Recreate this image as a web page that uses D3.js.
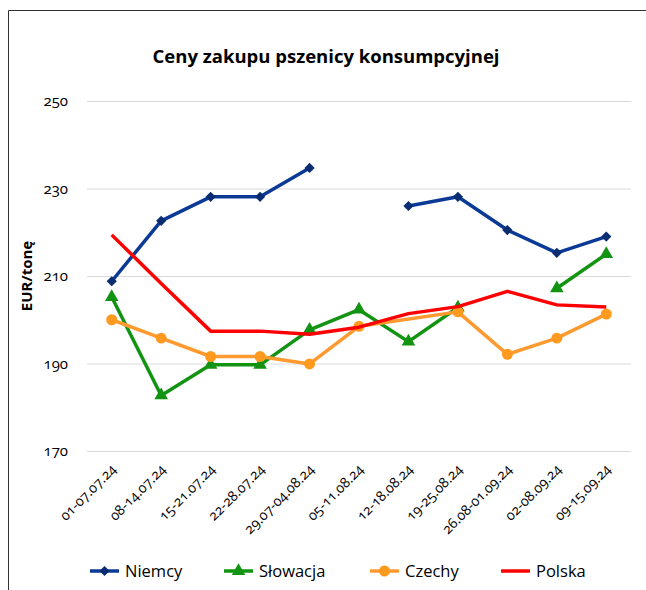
<!DOCTYPE html>
<html>
<head>
<meta charset="utf-8">
<script src="https://cdn.jsdelivr.net/npm/d3@7"></script>
<style>
    body { margin: 0; background: #fff; }
    svg text { font-family: "Open Sans", Lato, sans-serif; fill: #000; }
    .tick-num { font-variant-numeric: oldstyle-nums; }
</style>
</head>
<body>
<script>
// categories (weeks)
var categories = ["01-07.07.24", "08-14.07.24", "15-21.07.24", "22-28.07.24", "29.07-04.08.24",
    "05-11.08.24", "12-18.08.24", "19-25.08.24", "26.08-01.09.24", "02-08.09.24", "09-15.09.24"];

// series values, EUR/tonę (null = brak danych)
var niemcy = [208.8, 222.6, 228.1, 228.1, 234.7, null, 226.0, 228.1, 220.5, 215.3, 219.0];
var slowacja = [205.2, 182.7, 189.7, 189.7, 197.7, 202.3, 195.0, 202.8, null, 207.2, 215.0];
var czechy = [200.0, 195.8, 191.6, 191.6, 189.9, 198.5, null, 201.8, 192.1, 195.8, 201.3];
var polska = [219.4, 208.3, 197.4, 197.4, 196.7, 198.3, 201.4, 203.0, 206.5, 203.4, 202.9];

var seriesNames = ["Niemcy", "Słowacja", "Czechy", "Polska"];
var seriesColors = ["#0b3a96", "#129412", "#ff9a30", "#ff0000"];
var markerColors = ["#0a2d72", "#129412", "#ff9a1e", null];
var markerTypes = ["diamond", "triangle", "circle", null];
var spanGaps = [false, false, true, false];

var yTicks = [170, 190, 210, 230, 250];

var chartWidth = 646;
var chartHeight = 590;
var plotLeft = 87, plotRight = 631, plotTop = 101, plotBottom = 451;

var svg = d3.select("body").append("svg")
    .attr("width", chartWidth)
    .attr("height", chartHeight);

// frame
svg.append("path")
    .attr("d", "M8.5," + chartHeight + "V10.5H" + chartWidth)
    .attr("fill", "none")
    .attr("stroke", "#333")
    .attr("stroke-width", 1);

var x = d3.scalePoint().domain(categories).range([plotLeft, plotRight]).padding(0.5);
var y = d3.scaleLinear().domain([170, 250]).range([plotBottom, plotTop]);

/*====================================================================
       axes and gridlines
    ==================================================================*/
var yAxis = svg.append("g")
    .attr("transform", "translate(" + plotLeft + ",0)")
    .call(d3.axisLeft(y).tickValues(yTicks).tickSize(-(plotRight - plotLeft)).tickPadding(19).tickFormat(d3.format("d")));
yAxis.select(".domain").remove();
yAxis.selectAll(".tick line").attr("stroke", "#d9d9d9").attr("stroke-width", 1.2);
yAxis.selectAll(".tick text")
    .attr("class", "tick-num")
    .style("font-size", "15px");

var xAxis = svg.append("g")
    .attr("transform", "translate(0," + plotBottom + ")")
    .call(d3.axisBottom(x).tickSize(0));
xAxis.select(".domain").remove();
xAxis.selectAll(".tick text")
    .attr("class", "tick-num")
    .style("font-size", "14px")
    .attr("text-anchor", "end")
    .attr("dy", null)
    .attr("y", 0)
    .attr("transform", "translate(5,19) rotate(-45)");

// title
svg.append("text")
    .attr("x", 326)
    .attr("y", 63)
    .attr("text-anchor", "middle")
    .style("font-size", "18.5px")
    .style("font-weight", "bold")
    .text("Ceny zakupu pszenicy konsumpcyjnej");

svg.append("text")
    .attr("transform", "translate(32,276) rotate(-90)")
    .attr("text-anchor", "middle")
    .style("font-size", "15px")
    .style("font-weight", "bold")
    .text("EUR/tonę");

/*====================================================================
       lines and markers
    ==================================================================*/
var allSeries = [niemcy, slowacja, czechy, polska];

var line = d3.line()
    .defined(function (d) { return d.v != null; })
    .x(function (d) { return x(d.c); })
    .y(function (d) { return y(d.v); });

// diamond = square turned 45 degrees, like the spreadsheet marker
var symbolFor = {
    diamond: d3.symbol().type(d3.symbolSquare).size(52),
    triangle: d3.symbol().type(d3.symbolTriangle).size(80),
    circle: d3.symbol().type(d3.symbolCircle).size(95)
};
var symbolRotate = { diamond: 45, triangle: 0, circle: 0 };

allSeries.forEach(function (values, i) {
    var pts = values.map(function (v, j) { return { c: categories[j], v: v }; });
    var linePts = spanGaps[i] ? pts.filter(function (d) { return d.v != null; }) : pts;

    svg.append("path")
        .datum(linePts)
        .attr("d", line)
        .attr("fill", "none")
        .attr("stroke", seriesColors[i])
        .attr("stroke-width", 3.5)
        .attr("stroke-linejoin", "round");

    if (markerTypes[i]) {
        svg.append("g").selectAll("path")
            .data(pts.filter(function (d) { return d.v != null; }))
            .join("path")
            .attr("transform", function (d) {
                return "translate(" + x(d.c) + "," + y(d.v) + ") rotate(" + symbolRotate[markerTypes[i]] + ")";
            })
            .attr("d", symbolFor[markerTypes[i]])
            .attr("fill", markerColors[i]);
    }
});

/*====================================================================
       legend
    ==================================================================*/
var legendX = [90, 224, 370, 501];
var legend = svg.append("g").attr("transform", "translate(0,571)");

seriesNames.forEach(function (name, i) {
    var g = legend.append("g").attr("transform", "translate(" + legendX[i] + ",0)");
    g.append("line")
        .attr("x1", 0).attr("x2", 29)
        .attr("stroke", seriesColors[i])
        .attr("stroke-width", 3.5);
    if (markerTypes[i]) {
        g.append("path")
            .attr("transform", "translate(14.5,0) rotate(" + symbolRotate[markerTypes[i]] + ")")
            .attr("d", symbolFor[markerTypes[i]])
            .attr("fill", markerColors[i]);
    }
    g.append("text")
        .attr("x", 35)
        .attr("dy", "0.35em")
        .style("font-size", "16.5px")
        .text(name);
});
</script>
</body>
</html>
